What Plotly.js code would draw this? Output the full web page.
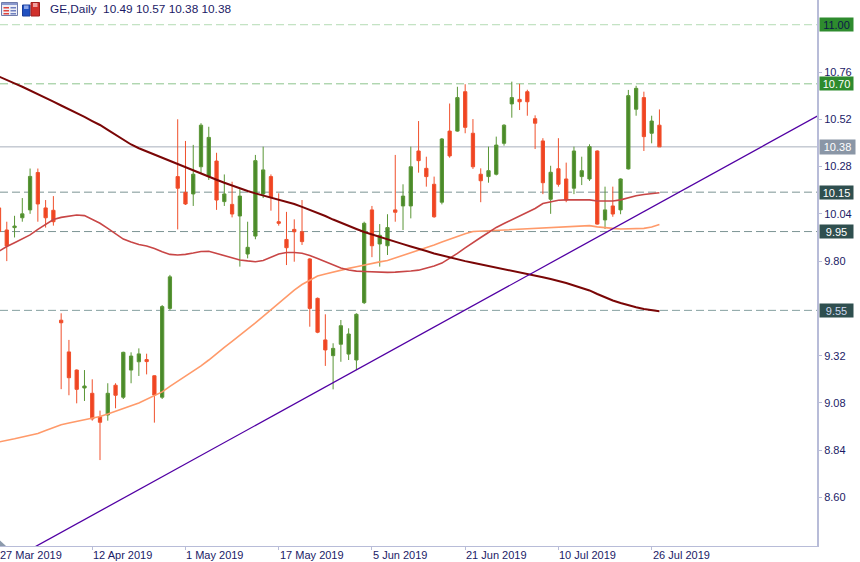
<!DOCTYPE html>
<html>
<head>
<meta charset="utf-8">
<script src="https://cdn.plot.ly/plotly-3.0.1.min.js"></script>
<style>html,body{margin:0;padding:0;background:#fff;}#chart{width:860px;height:562px;}</style>
</head>
<body>
<div id="chart"></div>
<script>
// ---- data ----
const dates = [
 "2019-03-27","2019-03-28","2019-03-29","2019-04-01","2019-04-02","2019-04-03","2019-04-04","2019-04-05",
 "2019-04-08","2019-04-09","2019-04-10","2019-04-11","2019-04-12","2019-04-15","2019-04-16","2019-04-17",
 "2019-04-18","2019-04-22","2019-04-23","2019-04-24","2019-04-25","2019-04-26","2019-04-29","2019-04-30",
 "2019-05-01","2019-05-02","2019-05-03","2019-05-06","2019-05-07","2019-05-08","2019-05-09","2019-05-10",
 "2019-05-13","2019-05-14","2019-05-15","2019-05-16","2019-05-17","2019-05-20","2019-05-21","2019-05-22",
 "2019-05-23","2019-05-24","2019-05-28","2019-05-29","2019-05-30","2019-05-31","2019-06-03","2019-06-04",
 "2019-06-05","2019-06-06","2019-06-07","2019-06-10","2019-06-11","2019-06-12","2019-06-13","2019-06-14",
 "2019-06-17","2019-06-18","2019-06-19","2019-06-20","2019-06-21","2019-06-24","2019-06-25","2019-06-26",
 "2019-06-27","2019-06-28","2019-07-01","2019-07-02","2019-07-03","2019-07-05","2019-07-08","2019-07-09",
 "2019-07-10","2019-07-11","2019-07-12","2019-07-15","2019-07-16","2019-07-17","2019-07-18","2019-07-19",
 "2019-07-22","2019-07-23","2019-07-24","2019-07-25","2019-07-26","2019-07-29"];

const openP = [10.07,9.958,9.97,10.02,10.06,10.25,10.07,10.058,9.50,9.339,9.247,9.156,9.129,9.010,9.019,9.170,
 9.109,9.247,9.289,9.30,9.218,9.109,9.56,10.229,10.149,10.141,10.279,10.229,10.308,10.102,10.088,10.029,
 9.836,9.927,10.141,10.229,10.00,9.91,9.961,9.949,9.811,9.611,9.40,9.32,9.378,9.328,9.298,9.589,
 10.06,9.887,9.878,10.06,10.08,10.08,10.359,10.271,10.19,10.099,10.46,10.46,10.66,10.449,10.241,10.229,
 10.241,10.398,10.598,10.621,10.66,10.523,10.41,10.114,10.269,10.217,10.17,10.229,10.217,10.359,10.009,10.08,
 10.06,10.268,10.571,10.63,10.449,10.49];
const highP = [10.10,10.00,10.03,10.12,10.27,10.27,10.11,10.13,9.535,9.40,9.25,9.247,9.20,9.041,9.18,9.18,
 9.34,9.337,9.357,9.33,9.22,9.577,9.73,10.52,10.41,10.39,10.50,10.482,10.35,10.24,10.203,10.165,
 10.00,10.339,10.381,10.24,10.144,10.05,10.012,10.11,9.815,9.615,9.53,9.383,9.501,9.459,9.535,10.0,
 10.08,9.988,10.038,10.339,10.19,10.381,10.511,10.33,10.229,10.425,10.60,10.685,10.698,10.521,10.271,10.381,
 10.432,10.495,10.711,10.70,10.67,10.54,10.424,10.284,10.424,10.30,10.381,10.33,10.393,10.362,10.178,10.178,
 10.22,10.669,10.69,10.66,10.538,10.57];
const lowP = [9.90,9.80,9.92,10.00,10.04,10.00,9.97,9.98,9.15,9.119,9.078,9.09,8.99,8.79,8.99,9.053,
 9.10,9.18,9.217,9.225,8.98,9.10,9.55,9.961,10.085,10.08,10.246,10.212,10.06,10.08,10.022,9.772,
 9.814,9.911,10.12,10.056,9.98,9.78,9.797,9.882,9.467,9.434,9.268,9.149,9.289,9.298,9.247,9.582,
 9.82,9.772,9.831,10.0,9.958,10.017,10.249,10.178,10.02,10.088,10.325,10.457,10.449,10.268,10.099,10.198,
 10.235,10.386,10.528,10.567,10.538,10.369,10.14,10.04,10.178,10.099,10.14,10.186,10.207,9.985,9.963,10.025,
 10.038,10.265,10.538,10.359,10.398,10.38];
const closeP = [9.95,9.877,9.978,10.04,10.23,10.09,10.02,10.00,9.487,9.208,9.149,9.166,8.999,8.982,9.129,9.119,
 9.337,9.318,9.329,9.29,9.12,9.569,9.72,10.170,10.09,10.241,10.49,10.428,10.11,10.141,10.039,10.13,
 9.87,10.31,10.263,10.124,9.992,9.868,9.949,9.899,9.56,9.439,9.349,9.357,9.472,9.43,9.53,9.992,
 9.878,9.931,9.97,10.048,10.13,10.279,10.31,10.229,10.025,10.42,10.334,10.63,10.479,10.279,10.208,10.259,
 10.389,10.49,10.63,10.609,10.609,10.50,10.198,10.251,10.19,10.11,10.359,10.259,10.381,9.988,10.06,10.039,
 10.217,10.64,10.677,10.432,10.511,10.38];

// moving averages
const maSlow = [10.737,10.718,10.702,10.685,10.667,10.646,10.627,10.610,10.590,10.572,10.553,10.532,10.511,10.491,10.466,10.441,
 10.416,10.392,10.373,10.357,10.341,10.323,10.306,10.289,10.274,10.259,10.244,10.228,10.213,10.198,10.183,10.169,
 10.156,10.144,10.133,10.122,10.111,10.101,10.090,10.075,10.060,10.044,10.029,10.011,9.994,9.978,9.963,9.948,
 9.935,9.922,9.910,9.897,9.886,9.874,9.864,9.851,9.839,9.829,9.818,9.808,9.800,9.792,9.784,9.776,
 9.769,9.761,9.752,9.743,9.735,9.727,9.718,9.709,9.700,9.689,9.676,9.664,9.651,9.633,9.615,9.600,
 9.587,9.575,9.566,9.557,9.550,9.545];
const maMid = [9.850,9.874,9.893,9.913,9.933,9.961,9.988,10.011,10.022,10.029,10.034,10.031,10.011,9.992,9.966,9.939,
 9.912,9.897,9.884,9.877,9.864,9.847,9.834,9.831,9.834,9.841,9.849,9.850,9.839,9.826,9.816,9.806,
 9.801,9.797,9.803,9.821,9.836,9.844,9.844,9.840,9.829,9.813,9.798,9.780,9.765,9.755,9.749,9.747,
 9.745,9.744,9.743,9.744,9.746,9.750,9.754,9.765,9.775,9.790,9.813,9.839,9.867,9.895,9.920,9.945,
 9.971,9.991,10.011,10.030,10.047,10.067,10.092,10.101,10.109,10.111,10.112,10.113,10.111,10.105,10.105,10.105,
 10.111,10.123,10.132,10.138,10.143,10.147];
const maLong = [8.882,8.889,8.898,8.907,8.915,8.925,8.940,8.955,8.969,8.978,8.986,8.994,9.001,9.011,9.024,9.037,
 9.052,9.066,9.080,9.098,9.115,9.136,9.164,9.189,9.214,9.242,9.268,9.298,9.331,9.362,9.392,9.422,
 9.455,9.486,9.519,9.552,9.585,9.618,9.653,9.681,9.704,9.724,9.735,9.745,9.755,9.763,9.771,9.780,
 9.788,9.796,9.803,9.816,9.829,9.841,9.854,9.869,9.882,9.897,9.912,9.925,9.939,9.950,9.952,9.953,
 9.955,9.958,9.959,9.961,9.963,9.965,9.967,9.969,9.972,9.974,9.977,9.979,9.980,9.974,9.969,9.966,
 9.963,9.964,9.966,9.966,9.973,9.986];

const tickDates = ["2019-03-27","2019-04-12","2019-05-01","2019-05-17","2019-06-05","2019-06-21","2019-07-10","2019-07-26"];
const tickLabels = ["27 Mar 2019","12 Apr 2019","1 May 2019","17 May 2019","5 Jun 2019","21 Jun 2019","10 Jul 2019","26 Jul 2019"];
const yTicks = [8.60, 8.84, 9.08, 9.32, 9.80, 10.04, 10.28, 10.52, 10.76];
const levels = [11.00, 10.70, 10.15, 9.95, 9.55];
const lastPrice = 10.38;
const trendIdx = [0, 110];
const trendPrice = [8.249, 10.638];
const headerText = "GE,Daily\u00a0\u00a010.49 10.57 10.38 10.38";

// ---- styles ----
const FONT = "Liberation Sans, Arial, sans-serif";
const NAVY = "#1a1a66";
const AXIS = "#b8bcd8";
const levelStyle = {
  "11.00": {line: "#b4dcb4", bg: "#2e8b2e", fg: "#0c1848"},
  "10.70": {line: "#8cc48c", bg: "#2e8b2e", fg: "#ffffff"},
  "10.15": {line: "#7c9494", bg: "#2f4f4f", fg: "#ffffff"},
  "9.95":  {line: "#7c9494", bg: "#2f4f4f", fg: "#ffffff"},
  "9.55":  {line: "#86a0a0", bg: "#2f4f4f", fg: "#d0d8f0"}
};

const W = 817, H = 546; // plot area in px
const XR = [0.129, 105.28];
const px = x => x / W;
const py = y => 1 - y / H;
const idxToPaper = i => (i - XR[0]) / (XR[1] - XR[0]);

const traces = [
  {type: "candlestick", x: dates, open: openP, high: highP, low: lowP, close: closeP,
   increasing: {line: {color: "#5a9636", width: 1}, fillcolor: "#4a8a2a"},
   decreasing: {line: {color: "#f0502c", width: 1}, fillcolor: "#f04422"},
   whiskerwidth: 0, hoverinfo: "skip", showlegend: false},
  {type: "scatter", mode: "lines", x: dates, y: maLong, line: {color: "#ff9a6a", width: 1.6}, hoverinfo: "skip", showlegend: false},
  {type: "scatter", mode: "lines", x: dates, y: maMid, line: {color: "#c84646", width: 1.6}, hoverinfo: "skip", showlegend: false},
  {type: "scatter", mode: "lines", x: dates, y: maSlow, line: {color: "#7a0606", width: 2}, hoverinfo: "skip", showlegend: false}
];

const shapes = [];
const annotations = [];

levels.forEach(v => {
  const s = levelStyle[v.toFixed(2)];
  shapes.push({type: "line", xref: "paper", yref: "y", x0: 0, x1: 1, y0: v, y1: v, layer: "below",
               line: {color: s.line, width: 1, dash: "8px,4px"}});
  annotations.push({xref: "paper", yref: "y", x: 1, y: v, xanchor: "left", yanchor: "middle", xshift: 2,
                    text: v.toFixed(2), showarrow: false, bgcolor: s.bg, borderpad: 0, width: 33, height: 13,
                    font: {family: FONT, size: 11, color: s.fg}});
});
shapes.push({type: "line", xref: "paper", yref: "y", x0: 0, x1: 1, y0: lastPrice, y1: lastPrice, layer: "below",
             line: {color: "#a8b0bc", width: 1}});
annotations.push({xref: "paper", yref: "y", x: 1, y: lastPrice, xanchor: "left", yanchor: "middle", xshift: 2,
                  text: lastPrice.toFixed(2), showarrow: false, bgcolor: "#8a96a6", borderpad: 0, width: 35, height: 14,
                  font: {family: FONT, size: 11, color: "#ffffff"}});

// trend line
shapes.push({type: "line", xref: "x", yref: "y", x0: trendIdx[0], x1: trendIdx[1], y0: trendPrice[0], y1: trendPrice[1],
             line: {color: "#5200a4", width: 1.3}});

// x tick labels (left aligned at the tick, as in the terminal)
tickDates.forEach((d, k) => {
  annotations.push({xref: "paper", yref: "paper", x: idxToPaper(dates.indexOf(d)), y: 0, xanchor: "left", yanchor: "top",
                    xshift: -1, yshift: -1, text: tickLabels[k], showarrow: false,
                    font: {family: FONT, size: 11, color: NAVY}});
});

// header
annotations.push({xref: "paper", yref: "paper", x: px(48), y: py(9), xanchor: "left", yanchor: "middle",
                  text: headerText, showarrow: false, font: {family: FONT, size: 11.8, color: NAVY}});

// header icons
const rect = (x0, y0, x1, y1, fill, line) => ({type: "rect", xref: "paper", yref: "paper",
  x0: px(x0), x1: px(x1), y0: py(y1), y1: py(y0), fillcolor: fill, line: {color: line || fill, width: line ? 1 : 0}, layer: "above"});
shapes.push(rect(1.5, 2.5, 17.5, 15.5, "#eceef6", "#6f7bab"));
shapes.push(rect(2, 3, 17, 5, "#8a98cc"));
[7, 10, 13].forEach(y => { shapes.push(rect(3.5, y, 9, y + 1.5, "#e0443c")); shapes.push(rect(10.5, y, 16, y + 1.5, "#7080c0")); });
shapes.push(rect(22.5, 5, 30, 16, "#2050c0", "#1a3c98"));
shapes.push(rect(24, 5.5, 28.5, 9, "#8aa4e8"));
shapes.push(rect(31, 2.5, 39.5, 16, "#d0302c", "#a02020"));
shapes.push(rect(33, 3, 37.5, 7, "#f0a0a0"));

// small shift marker in bottom-left corner
shapes.push({type: "path", xref: "paper", yref: "paper",
             path: `M 0 ${py(540.5)} L ${px(6)} ${py(546)} L 0 ${py(546)} Z`,
             fillcolor: "#8c9aac", line: {width: 0}, layer: "above"});

const layout = {
  width: 860, height: 562,
  margin: {l: 0, r: 43, t: 0, b: 16, pad: 0},
  paper_bgcolor: "#ffffff", plot_bgcolor: "#ffffff",
  showlegend: false, hovermode: false, boxgap: 0.4,
  font: {family: FONT, size: 11, color: NAVY},
  xaxis: {type: "category", range: XR, rangeslider: {visible: false},
          showgrid: false, zeroline: false, showline: true, linecolor: AXIS, linewidth: 1,
          ticks: "outside", ticklen: 3, tickcolor: AXIS, tickvals: tickDates, showticklabels: false, fixedrange: true},
  yaxis: {side: "right", range: [8.3538, 11.1255], showgrid: false, zeroline: false,
          showline: true, linecolor: AXIS, linewidth: 2, ticks: "outside", ticklen: 3, tickcolor: AXIS,
          tickvals: yTicks, tickformat: ".2f", tickfont: {family: FONT, size: 11, color: NAVY}, fixedrange: true},
  shapes: shapes,
  annotations: annotations
};

Plotly.newPlot("chart", traces, layout, {staticPlot: true, displayModeBar: false});
</script>
</body>
</html>
